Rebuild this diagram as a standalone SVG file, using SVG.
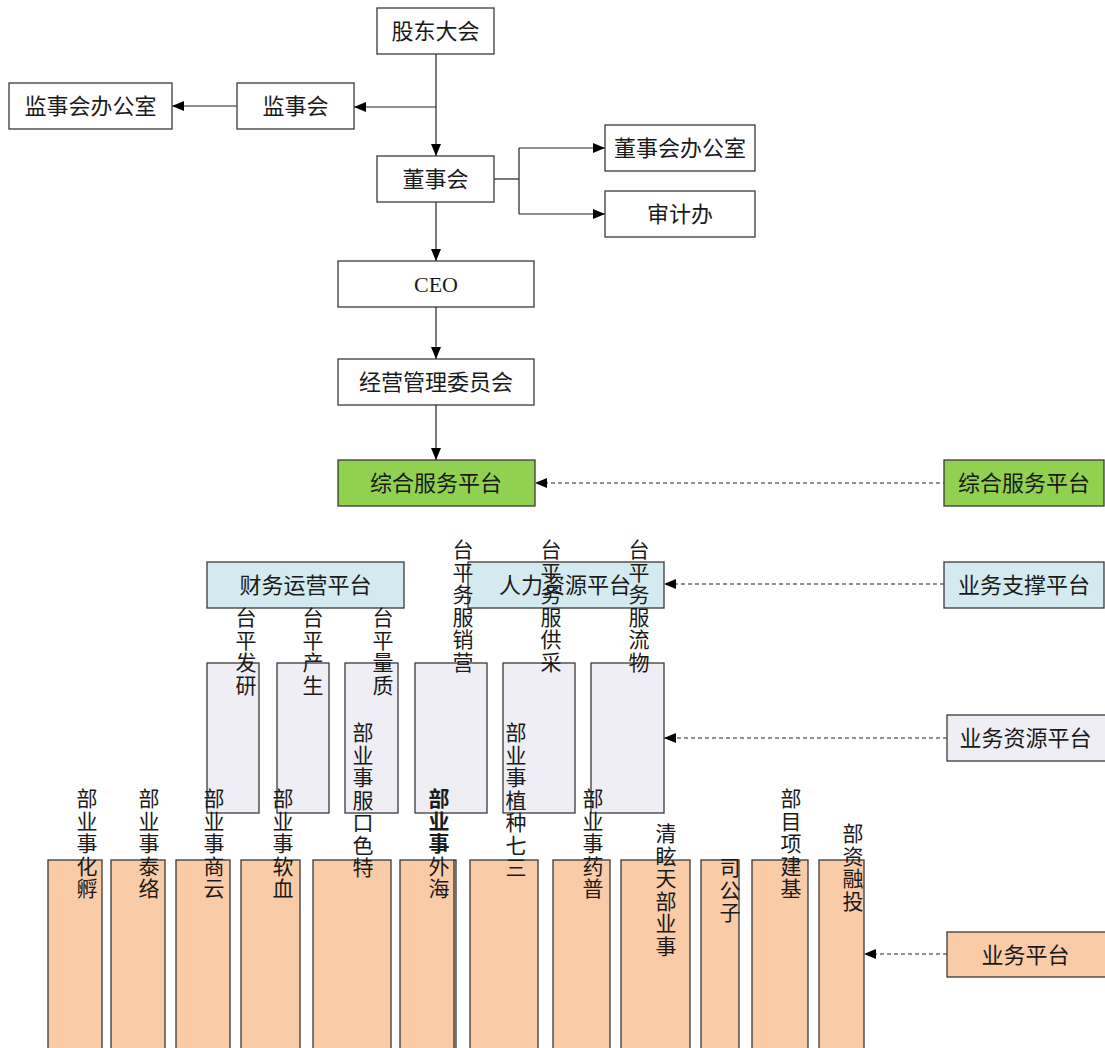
<svg xmlns="http://www.w3.org/2000/svg" width="1105" height="1048" viewBox="0 0 1105 1048">
<style>
text{font-family:"Liberation Serif","Noto Sans CJK SC",serif;font-size:22px;fill:#1a1a1a}
text.v{font-size:21px}
.c{text-anchor:middle}
.b{stroke:#3a3a3a;stroke-width:1.3}
.w{fill:#ffffff}
.g{fill:#92d050}
.bl{fill:#d3eaf0}
.lv{fill:#efeef4}
.or{fill:#f9cba6}
.ln{fill:none;stroke:#222;stroke-width:1.2}
.d{fill:none;stroke:#222;stroke-width:1.2;stroke-dasharray:4 3}
.bold{font-weight:bold}
</style>
<defs>
<marker id="ah" viewBox="0 0 12 10" refX="12" refY="5" markerWidth="12" markerHeight="10" markerUnits="userSpaceOnUse" orient="auto">
<path d="M0,0 L12,5 L0,10 Z" fill="#000"/>
</marker>
</defs>
<g id="connectors">
<path class="ln" d="M436,54 V156" marker-end="url(#ah)"/>
<path class="ln" d="M436,107 H354" marker-end="url(#ah)"/>
<path class="ln" d="M237,106 H172" marker-end="url(#ah)"/>
<path class="ln" d="M494,179 H519"/>
<path class="ln" d="M519,148 V214"/>
<path class="ln" d="M519,148 H605" marker-end="url(#ah)"/>
<path class="ln" d="M519,214 H605" marker-end="url(#ah)"/>
<path class="ln" d="M436,202 V261" marker-end="url(#ah)"/>
<path class="ln" d="M436,307 V359" marker-end="url(#ah)"/>
<path class="ln" d="M436,405 V460" marker-end="url(#ah)"/>
<path class="d" d="M947,483 H535" marker-end="url(#ah)"/>
<path class="d" d="M944,584 H664" marker-end="url(#ah)"/>
<path class="d" d="M947,738 H664" marker-end="url(#ah)"/>
<path class="d" d="M947,954 H864" marker-end="url(#ah)"/>
</g>
<g id="n-gudong"><rect class="b w" x="377" y="8" width="117" height="46"/><text class="c" x="435.5" y="39">股东大会</text></g>
<g id="n-jianshihui-office"><rect class="b w" x="9" y="83" width="163" height="46"/><text class="c" x="90.5" y="114">监事会办公室</text></g>
<g id="n-jianshihui"><rect class="b w" x="237" y="83" width="117" height="46"/><text class="c" x="295.5" y="114">监事会</text></g>
<g id="n-dongshihui"><rect class="b w" x="377" y="156" width="117" height="46"/><text class="c" x="435.5" y="187">董事会</text></g>
<g id="n-dongshihui-office"><rect class="b w" x="605" y="125" width="150" height="46"/><text class="c" x="680" y="156">董事会办公室</text></g>
<g id="n-audit"><rect class="b w" x="605" y="191" width="150" height="46"/><text class="c" x="680" y="222">审计办</text></g>
<g id="n-ceo"><rect class="b w" x="338" y="261" width="196" height="46"/><text class="c" x="436" y="292">CEO</text></g>
<g id="n-jingying"><rect class="b w" x="338" y="359" width="196" height="46"/><text class="c" x="436" y="390">经营管理委员会</text></g>
<g id="n-zonghe"><rect class="b g" x="338" y="460" width="197" height="46"/><text class="c" x="436" y="491">综合服务平台</text></g>
<g id="n-zonghe-legend"><rect class="b g" x="944" y="460" width="160" height="46"/><text class="c" x="1024" y="491">综合服务平台</text></g>
<g id="n-caiwu"><rect class="b bl" x="207" y="562" width="197" height="46"/><text class="c" x="305.5" y="593">财务运营平台</text></g>
<g id="n-renli"><rect class="b bl" x="468" y="562" width="196" height="46"/><text class="c" x="565" y="593">人力资源平台</text></g>
<g id="n-zhicheng-legend"><rect class="b bl" x="944" y="562" width="160" height="46"/><text class="c" x="1024" y="593">业务支撑平台</text></g>
<g id="n-ziyuan-legend"><rect class="b lv" x="947" y="715" width="160" height="46"/><text class="c" x="1025.5" y="746">业务资源平台</text></g>
<g id="n-yewu-legend"><rect class="b or" x="947" y="932" width="160" height="45"/><text class="c" x="1025.5" y="962.5">业务平台</text></g>
<g id="n-yanfa"><rect class="b lv" x="207" y="663" width="52" height="150"/>
<text class="c v"><tspan x="246" y="625">台</tspan><tspan x="246" y="647.5">平</tspan><tspan x="246" y="670">发</tspan><tspan x="246" y="692.5">研</tspan></text></g>
<g id="n-shengchan"><rect class="b lv" x="277" y="663" width="52" height="150"/>
<text class="c v"><tspan x="313" y="625">台</tspan><tspan x="313" y="647.5">平</tspan><tspan x="313" y="670">产</tspan><tspan x="313" y="692.5">生</tspan></text></g>
<g id="n-zhiliang"><rect class="b lv" x="345" y="663" width="53" height="150"/>
<text class="c v"><tspan x="383" y="625">台</tspan><tspan x="383" y="647.5">平</tspan><tspan x="383" y="670">量</tspan><tspan x="383" y="692.5">质</tspan></text></g>
<g id="n-yingxiao"><rect class="b lv" x="415" y="663" width="72" height="150"/>
<text class="c v"><tspan x="463" y="557">台</tspan><tspan x="463" y="579.5">平</tspan><tspan x="463" y="602">务</tspan><tspan x="463" y="624.5">服</tspan><tspan x="463" y="647">销</tspan><tspan x="463" y="669.5">营</tspan></text></g>
<g id="n-caigong"><rect class="b lv" x="503" y="663" width="72" height="150"/>
<text class="c v"><tspan x="551" y="557">台</tspan><tspan x="551" y="579.5">平</tspan><tspan x="551" y="602">务</tspan><tspan x="551" y="624.5">服</tspan><tspan x="551" y="647">供</tspan><tspan x="551" y="669.5">采</tspan></text></g>
<g id="n-wuliu"><rect class="b lv" x="591" y="663" width="73" height="150"/>
<text class="c v"><tspan x="639" y="557">台</tspan><tspan x="639" y="579.5">平</tspan><tspan x="639" y="602">务</tspan><tspan x="639" y="624.5">服</tspan><tspan x="639" y="647">流</tspan><tspan x="639" y="669.5">物</tspan></text></g>
<g id="n-fuhua"><rect class="b or" x="48" y="860" width="54" height="192"/>
<text class="c v"><tspan x="87" y="806">部</tspan><tspan x="87" y="828.5">业</tspan><tspan x="87" y="851">事</tspan><tspan x="87" y="873.5">化</tspan><tspan x="87" y="896">孵</tspan></text></g>
<g id="n-luotai"><rect class="b or" x="111" y="860" width="54" height="192"/>
<text class="c v"><tspan x="149" y="806">部</tspan><tspan x="149" y="828.5">业</tspan><tspan x="149" y="851">事</tspan><tspan x="149" y="873.5">泰</tspan><tspan x="149" y="896">络</tspan></text></g>
<g id="n-yunshang"><rect class="b or" x="176" y="860" width="54" height="192"/>
<text class="c v"><tspan x="214" y="806">部</tspan><tspan x="214" y="828.5">业</tspan><tspan x="214" y="851">事</tspan><tspan x="214" y="873.5">商</tspan><tspan x="214" y="896">云</tspan></text></g>
<g id="n-xueruan"><rect class="b or" x="241" y="860" width="59" height="192"/>
<text class="c v"><tspan x="283" y="806">部</tspan><tspan x="283" y="828.5">业</tspan><tspan x="283" y="851">事</tspan><tspan x="283" y="873.5">软</tspan><tspan x="283" y="896">血</tspan></text></g>
<g id="n-tese"><rect class="b or" x="313" y="860" width="78" height="192"/>
<text class="c v"><tspan x="363" y="740">部</tspan><tspan x="363" y="762.5">业</tspan><tspan x="363" y="785">事</tspan><tspan x="363" y="807.5">服</tspan><tspan x="363" y="830">口</tspan><tspan x="363" y="852.5">色</tspan><tspan x="363" y="875">特</tspan></text></g>
<g id="n-haiwai"><rect class="b or" x="400" y="860" width="56" height="192"/><path class="ln" d="M454,860 V1052"/>
<text class="c v"><tspan class="bold" x="439" y="806">部</tspan><tspan class="bold" x="439" y="828.5">业</tspan><tspan class="bold" x="439" y="851">事</tspan><tspan x="439" y="873.5">外</tspan><tspan x="439" y="896">海</tspan></text></g>
<g id="n-sanqi"><rect class="b or" x="470" y="860" width="68" height="192"/>
<text class="c v"><tspan x="516" y="740">部</tspan><tspan x="516" y="762.5">业</tspan><tspan x="516" y="785">事</tspan><tspan x="516" y="807.5">植</tspan><tspan x="516" y="830">种</tspan><tspan x="516" y="852.5">七</tspan><tspan x="516" y="875">三</tspan></text></g>
<g id="n-puyao"><rect class="b or" x="553" y="860" width="57" height="192"/>
<text class="c v"><tspan x="593" y="806">部</tspan><tspan x="593" y="828.5">业</tspan><tspan x="593" y="851">事</tspan><tspan x="593" y="873.5">药</tspan><tspan x="593" y="896">普</tspan></text></g>
<g id="n-tianxuan"><rect class="b or" x="621" y="860" width="69" height="192"/>
<text class="c v"><tspan x="666" y="841">清</tspan><tspan x="666" y="863.5">眩</tspan><tspan x="666" y="886">天</tspan><tspan x="666" y="908.5">部</tspan><tspan x="666" y="931">业</tspan><tspan x="666" y="953.5">事</tspan></text></g>
<g id="n-zigongsi"><rect class="b or" x="701" y="860" width="38" height="192"/>
<text class="c v"><tspan x="730" y="875">司</tspan><tspan x="730" y="897.5">公</tspan><tspan x="730" y="920">子</tspan></text></g>
<g id="n-jijian"><rect class="b or" x="752" y="860" width="56" height="192"/>
<text class="c v"><tspan x="791" y="806">部</tspan><tspan x="791" y="828.5">目</tspan><tspan x="791" y="851">项</tspan><tspan x="791" y="873.5">建</tspan><tspan x="791" y="896">基</tspan></text></g>
<g id="n-tourongzi"><rect class="b or" x="819" y="860" width="45" height="192"/>
<text class="c v"><tspan x="853" y="841">部</tspan><tspan x="853" y="863.5">资</tspan><tspan x="853" y="886">融</tspan><tspan x="853" y="908.5">投</tspan></text></g>
</svg>
